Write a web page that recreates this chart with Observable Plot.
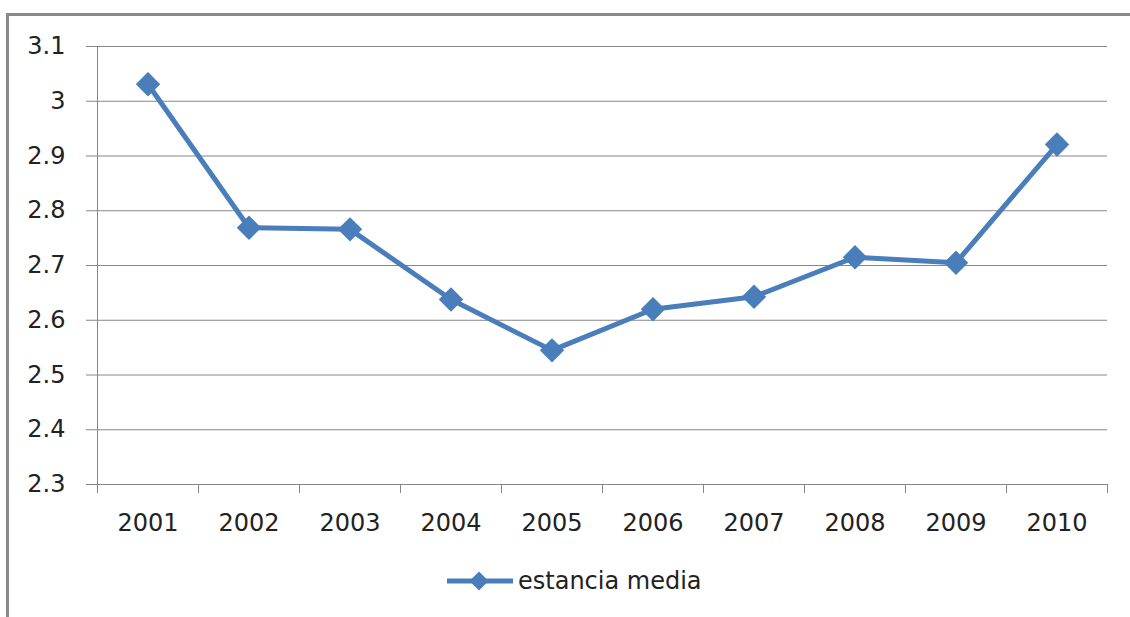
<!DOCTYPE html>
<html>
<head>
<meta charset="utf-8">
<script src="https://cdn.jsdelivr.net/npm/d3@7"></script>
<script src="https://cdn.jsdelivr.net/npm/@observablehq/plot@0.6"></script>
<style>
  html, body { margin: 0; padding: 0; background: #fff; }
  body { width: 1130px; height: 617px; position: relative; overflow: hidden; font-family: "DejaVu Sans", sans-serif; }
  #frame { position: absolute; left: 6px; top: 13px; width: 1200px; height: 700px;
           border-top: 3px solid #8a8a8a; border-left: 3px solid #8a8a8a; pointer-events: none; }
  #chart { position: absolute; left: 0; top: 0; }
  #legend { position: absolute; left: 447px; top: 566px; height: 30px; display: flex; align-items: center;
            font-size: 24px; color: #222; }
  #legend svg { display: block; margin-right: 5px; }
</style>
</head>
<body>
<div id="chart"></div>
<div id="frame"></div>
<div id="legend"></div>
<script>
// Average stay per year
const years = [2001, 2002, 2003, 2004, 2005, 2006, 2007, 2008, 2009, 2010];
const estancia = [3.031, 2.769, 2.766, 2.638, 2.545, 2.620, 2.643, 2.715, 2.705, 2.921];
const yTicks = [2.3, 2.4, 2.5, 2.6, 2.7, 2.8, 2.9, 3.0, 3.1];
const seriesName = "estancia media";

const color = "#4a7ebb";
const axisGray = "#868686";

const data = years.map((year, i) => ({year, value: estancia[i]}));
// category boundaries, where the x-axis ticks sit
const bounds = years.map(y => y - 0.5).concat([years[years.length - 1] + 0.5]);

const chart = Plot.plot({
  width: 1130,
  height: 545,
  marginLeft: 97,
  marginRight: 23,
  marginTop: 46,
  marginBottom: 61,
  style: { fontFamily: "DejaVu Sans, sans-serif", fontSize: "24px", color: "#222", background: "transparent" },
  x: { type: "linear", domain: [bounds[0], bounds[bounds.length - 1]] },
  y: { domain: [yTicks[0], yTicks[yTicks.length - 1]] },
  marks: [
    Plot.gridY(yTicks, { stroke: axisGray, strokeOpacity: 1, strokeWidth: 1 }),
    Plot.axisY(yTicks, {
      tickSize: 11, tickPadding: 21, stroke: axisGray, strokeOpacity: 1,
      tickFormat: d => String(+d.toFixed(1)), label: null, fontSize: 24
    }),
    Plot.ruleX([bounds[0]], { stroke: axisGray }),
    Plot.axisX(bounds, { tickSize: 9, tickFormat: () => "", stroke: axisGray, strokeOpacity: 1, label: null }),
    Plot.axisX(years, { tickSize: 0, tickPadding: 29, tickFormat: d => String(d), label: null, fontSize: 24 }),
    Plot.line(data, { x: "year", y: "value", stroke: color, strokeWidth: 5, strokeLinejoin: "round" }),
    Plot.dot(data, { x: "year", y: "value", symbol: "diamond2", r: 11, fill: color, stroke: "none" })
  ]
});
document.getElementById("chart").appendChild(chart);

// Legend: line swatch with diamond, then the series name
const legend = d3.select("#legend");
const sw = legend.append("svg").attr("width", 66).attr("height", 30);
sw.append("line").attr("x1", 0).attr("x2", 66).attr("y1", 15).attr("y2", 15)
  .attr("stroke", color).attr("stroke-width", 5);
sw.append("path").attr("d", d3.symbol(d3.symbolDiamond2, 230)())
  .attr("transform", "translate(32,15)").attr("fill", color);
legend.append("span").text(seriesName);
</script>
</body>
</html>
